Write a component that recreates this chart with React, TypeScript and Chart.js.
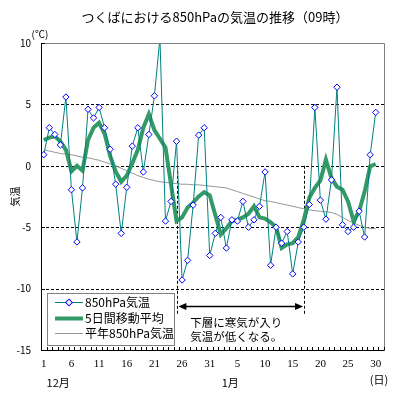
import { useEffect, useRef } from 'react';
import { Chart, registerables } from 'chart.js';

Chart.register(...registerables);

const JP = "'Noto Sans CJK JP', 'Noto Sans', sans-serif";

const titleText = 'つくばにおける850hPaの気温の推移（09時）';
const yTitle = '気温';
const yUnit = '(℃)';
const xUnit = '(日)';

// Dec 1 .. Dec 31, Jan 1 .. Jan 31
const categories = [
  '1', '2', '3', '4', '5', '6', '7', '8', '9', '10', '11', '12', '13', '14', '15', '16',
  '17', '18', '19', '20', '21', '22', '23', '24', '25', '26', '27', '28', '29', '30', '31',
  '1', '2', '3', '4', '5', '6', '7', '8', '9', '10', '11', '12', '13', '14', '15', '16',
  '17', '18', '19', '20', '21', '22', '23', '24', '25', '26', '27', '28', '29', '30', '31',
];

const monthLabels = ['12月', '1月'];
const monthPositions = [2.6, 33.7];

const temp850 = [
  0.9, 3.1, 2.55, 1.7, 5.6, -1.95, -6.2, -1.8, 4.6, 3.9, 4.75, 3.1, 1.35, -1.5, -5.5, -1.75,
  1.6, 3.1, -0.5, 2.55, 5.7, 10.4, -4.5, -2.9, 2.0, -9.3, -7.7, -3.2, 2.5, 3.1, -7.3,
  -5.5, -4.2, -6.7, -4.4, -4.5, -2.9, -5.0, -4.4, -3.3, -0.5, -8.1, -5.0, -6.3, -5.35, -8.8,
  -6.2, -5.0, -3.15, 4.75, -2.8, -4.35, -1.15, 6.4, -4.8, -5.35, -5.0, -3.7, -5.8, 0.9, 4.35,
  null,
];

const movingAvg5 = [
  2.1, 2.3, 2.4, 2.0, 1.3, -0.45, 0.0, -0.4, 2.1, 3.1, 3.5, 2.6, 0.8, -0.45, -1.3, -0.8,
  0.2, 1.3, 3.1, 4.2, 2.9, 2.2, 1.5, -1.5, -4.5, -4.2, -3.4, -3.0, -2.5, -2.15, -2.4,
  -4.0, -5.6, -5.1, -4.5, -4.4, -4.2, -3.9, -3.3, -4.2, -4.3, -4.6, -5.0, -6.7, -6.4, -6.3,
  -5.8, -4.4, -2.6, -1.8, -1.2, 0.5, -1.0, -1.7, -1.95, -2.9, -4.5, -3.7, -2.1, -0.05, 0.15,
  null,
];

const normal850 = [
  1.3, 1.2, 1.1, 1.0, 0.95, 0.9, 0.8, 0.7, 0.65, 0.55, 0.45, 0.3, 0.15, 0.0, -0.2, -0.4,
  -0.6, -0.8, -0.95, -1.1, -1.2, -1.3, -1.35, -1.4, -1.45, -1.5, -1.5, -1.55, -1.55, -1.6, -1.65,
  -1.7, -1.75, -1.8, -1.95, -2.1, -2.25, -2.4, -2.55, -2.7, -2.85, -2.9, -3.0, -3.1, -3.2, -3.3,
  -3.4, -3.5, -3.6, -3.65, -3.7, -3.75, -3.8, -3.95, -4.2, -4.45, -4.65, -4.85, -5.0, -5.1, -5.1,
  null,
];

const seriesLabels = ['850hPa気温', '5日間移動平均', '平年850hPa気温'];

// annotation (data units)
const periodStart = 24.15;
const periodEnd = 47.05;
const arrowLevel = -11.4;
const markerTop = 0;
const markerBottom = -12.1;
const noteLines = ['下層に寒気が入り', '気温が低くなる。'];

const decorPlugin = {
  id: 'decor',
  beforeDatasetsDraw(chart: any) {
    const { ctx, chartArea: a, scales } = chart;
    const x = scales.x;
    const y = scales.y;
    ctx.save();
    ctx.strokeStyle = '#000';
    ctx.lineWidth = 1;
    ctx.setLineDash([3, 2]);
    y.ticks.forEach((t: any) => {
      if (t.value > y.min && t.value < y.max) {
        const py = Math.round(y.getPixelForValue(t.value)) + 0.5;
        ctx.beginPath();
        ctx.moveTo(a.left, py);
        ctx.lineTo(a.right, py);
        ctx.stroke();
      }
    });
    [periodStart, periodEnd].forEach((v) => {
      const px = Math.round(x.getPixelForValue(v)) + 0.5;
      ctx.beginPath();
      ctx.moveTo(px, y.getPixelForValue(markerTop));
      ctx.lineTo(px, y.getPixelForValue(markerBottom));
      ctx.stroke();
    });
    ctx.restore();
  },
  afterDatasetsDraw(chart: any) {
    const { ctx, chartArea: a, scales } = chart;
    const x = scales.x;
    const y = scales.y;
    ctx.save();
    // borders
    ctx.setLineDash([]);
    ctx.lineWidth = 1;
    ctx.strokeStyle = '#808080';
    ctx.beginPath();
    ctx.moveTo(Math.round(a.left) + 0.5, Math.round(a.top) + 0.5);
    ctx.lineTo(Math.round(a.right) + 0.5, Math.round(a.top) + 0.5);
    ctx.lineTo(Math.round(a.right) + 0.5, Math.round(a.bottom) + 0.5);
    ctx.stroke();
    ctx.strokeStyle = '#000';
    ctx.beginPath();
    ctx.moveTo(Math.round(a.left) + 0.5, Math.round(a.top) + 0.5);
    ctx.lineTo(Math.round(a.left) + 0.5, Math.round(a.bottom) + 0.5);
    ctx.lineTo(Math.round(a.right) + 0.5, Math.round(a.bottom) + 0.5);
    ctx.stroke();
    // y ticks (inward)
    y.ticks.forEach((t: any) => {
      const py = Math.round(y.getPixelForValue(t.value)) + 0.5;
      ctx.beginPath();
      ctx.moveTo(a.left, py);
      ctx.lineTo(a.left + 4, py);
      ctx.stroke();
    });
    // x ticks at category boundaries
    for (let i = 0; i <= categories.length; i++) {
      const px = Math.round(x.getPixelForValue(i - 0.5)) + 0.5;
      ctx.beginPath();
      ctx.moveTo(px, a.bottom);
      ctx.lineTo(px, a.bottom - 3);
      ctx.stroke();
    }

    // arrow
    const ax1 = x.getPixelForValue(periodStart) + 1;
    const ax2 = x.getPixelForValue(periodEnd) - 1;
    const ay = Math.round(y.getPixelForValue(arrowLevel)) + 0.5;
    ctx.lineWidth = 1.5;
    ctx.beginPath();
    ctx.moveTo(ax1 + 6, ay);
    ctx.lineTo(ax2 - 6, ay);
    ctx.stroke();
    ctx.fillStyle = '#000';
    ctx.beginPath();
    ctx.moveTo(ax1, ay);
    ctx.lineTo(ax1 + 8, ay - 3.5);
    ctx.lineTo(ax1 + 8, ay + 3.5);
    ctx.closePath();
    ctx.fill();
    ctx.beginPath();
    ctx.moveTo(ax2, ay);
    ctx.lineTo(ax2 - 8, ay - 3.5);
    ctx.lineTo(ax2 - 8, ay + 3.5);
    ctx.closePath();
    ctx.fill();

    // note text
    ctx.font = `11.5px ${JP}`;
    ctx.textAlign = 'left';
    ctx.textBaseline = 'middle';
    noteLines.forEach((s, i) => {
      ctx.fillText(s, ax1 + 12, ay + 16 + i * 14.5);
    });

    // legend
    const lx = 47.5, ly = 293.5, lw = 127, lh = 52;
    ctx.fillStyle = '#fff';
    ctx.fillRect(lx, ly, lw, lh);
    ctx.strokeStyle = '#808080';
    ctx.lineWidth = 1;
    ctx.strokeRect(lx, ly, lw, lh);
    const rows = [302.5, 318.5, 333.5];
    chart.data.datasets.forEach((ds: any, i: number) => {
      const ry = rows[i];
      ctx.strokeStyle = ds.borderColor;
      ctx.lineWidth = ds.borderWidth;
      ctx.beginPath();
      ctx.moveTo(55, ry);
      ctx.lineTo(83, ry);
      ctx.stroke();
      if (ds.pointRadius > 0) {
        ctx.save();
        ctx.translate(69, ry);
        ctx.rotate(Math.PI / 4);
        ctx.fillStyle = ds.pointBackgroundColor;
        ctx.strokeStyle = ds.pointBorderColor;
        ctx.lineWidth = 1;
        const r = ds.pointRadius * 0.75;
        ctx.fillRect(-r, -r, 2 * r, 2 * r);
        ctx.strokeRect(-r, -r, 2 * r, 2 * r);
        ctx.restore();
      }
      ctx.fillStyle = '#000';
      ctx.font = `12px ${JP}`;
      ctx.textAlign = 'left';
      ctx.textBaseline = 'middle';
      ctx.fillText(ds.label, 85, ry);
    });

    // title
    ctx.fillStyle = '#000';
    ctx.font = `13px ${JP}`;
    ctx.textAlign = 'center';
    ctx.textBaseline = 'middle';
    ctx.fillText(titleText, 215, 17);

    // units
    ctx.font = `10px ${JP}`;
    ctx.fillText(yUnit, 40, 34);
    ctx.font = `11px ${JP}`;
    ctx.fillText(xUnit, 379, 380);

    // month labels
    ctx.font = `11px ${JP}`;
    monthLabels.forEach((m, i) => {
      ctx.fillText(m, x.getPixelForValue(monthPositions[i]), 383);
    });

    // y title
    ctx.save();
    ctx.translate(15, (a.top + a.bottom) / 2);
    ctx.rotate(-Math.PI / 2);
    ctx.font = `10px ${JP}`;
    ctx.fillText(yTitle, 0, 0);
    ctx.restore();

    ctx.restore();
  },
};

export default function App() {
  const ref = useRef<HTMLCanvasElement | null>(null);
  useEffect(() => {
    if (!ref.current) return;
    const chart = new Chart(ref.current, {
      type: 'line',
      data: {
        labels: categories,
        datasets: [
          {
            label: seriesLabels[0],
            data: temp850,
            borderColor: '#008080',
            borderWidth: 1,
            pointStyle: 'rectRot',
            pointRadius: 3.2,
            pointBorderColor: '#0000ff',
            pointBackgroundColor: '#ffffff',
            pointBorderWidth: 1,
            tension: 0,
            clip: 0,
          },
          {
            label: seriesLabels[1],
            data: movingAvg5,
            borderColor: '#339966',
            borderWidth: 4,
            pointRadius: 0,
            tension: 0,
            clip: 0,
          },
          {
            label: seriesLabels[2],
            data: normal850,
            borderColor: '#969696',
            borderWidth: 1,
            pointRadius: 0,
            tension: 0,
            clip: 0,
          },
        ] as any,
      },
      options: {
        responsive: false,
        animation: false,
        devicePixelRatio: 1,
        layout: { padding: { top: 43, right: 15, left: 0, bottom: 0 } },
        plugins: {
          legend: { display: false },
          tooltip: { enabled: false },
          title: { display: false },
        },
        scales: {
          x: {
            type: 'category',
            offset: true,
            grid: { display: false, drawTicks: false },
            border: { display: false },
            ticks: {
              autoSkip: false,
              maxRotation: 0,
              minRotation: 0,
              padding: 8,
              color: '#000',
              font: { family: "'Liberation Serif', serif", size: 11 },
              callback: (_v: any, i: number) => (i % 5 === 0 ? categories[i] : ''),
            },
            afterFit: (s: any) => {
              s.height = 49;
            },
          },
          y: {
            min: -15,
            max: 10,
            ticks: {
              stepSize: 5,
              padding: 10,
              color: '#000',
              font: { family: JP, size: 10 },
            },
            grid: { display: false, drawTicks: false },
            border: { display: false },
            afterFit: (s: any) => {
              s.width = 41;
            },
          },
        },
      } as any,
      plugins: [decorPlugin],
    });
    return () => chart.destroy();
  }, []);
  return (
    <div style={{ position: 'fixed', left: 0, top: 0, width: 399, height: 399, background: '#fff' }}>
      <canvas ref={ref} width={399} height={399} style={{ display: 'block' }} />
    </div>
  );
}
